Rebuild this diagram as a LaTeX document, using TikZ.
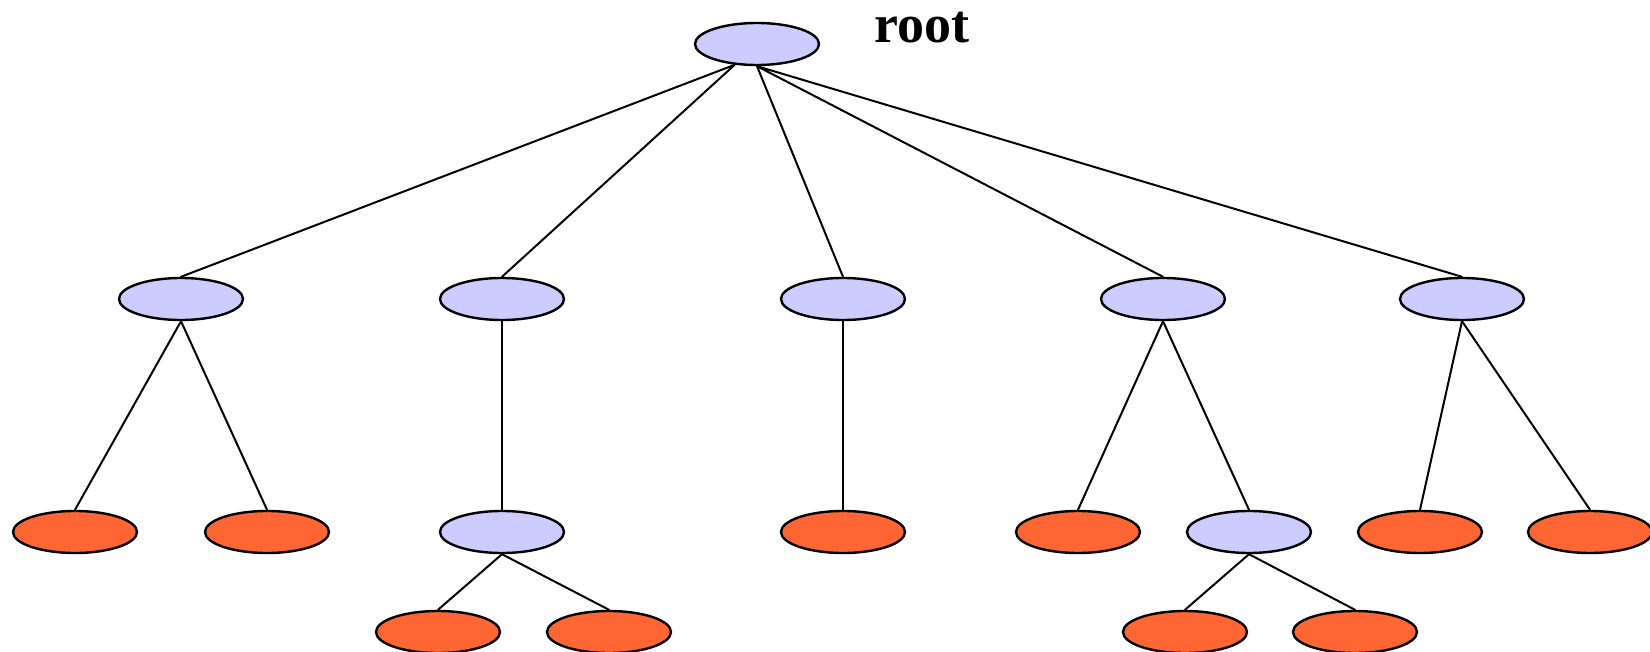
\documentclass[tikz,border=0pt]{standalone}
\usepackage{fontspec}
\setmainfont{Liberation Serif}
\usetikzlibrary{shapes.geometric}
\definecolor{inner}{HTML}{CCCCFF}
\definecolor{leafc}{HTML}{FF6633}
\tikzset{
  vertex/.style={ellipse, draw=black, line width=1.2pt, fill=inner, minimum width=62pt, minimum height=21pt, inner sep=0pt},
  leaf/.style={vertex, fill=leafc},
  edge/.style={line width=1pt}
}
\begin{document}
\begin{tikzpicture}[x=0.5pt, y=-0.5pt, line cap=round, line join=round]
  \useasboundingbox (0,0) rectangle (1650,652);
  % inner nodes
  \node[vertex] (root) at (757,44) {};
  \foreach \n/\x in {A/181, B/502, C/843, D/1163, E/1462}
    \node[vertex] (\n) at (\x,299) {};
  \node[vertex] (B_1) at (502,532) {};
  \node[vertex] (D_2) at (1249,532) {};
  % leaves
  \foreach \n/\x/\y in {A_1/75/532, A_2/267/532, C_1/843/532, D_1/1078/532,
      E_1/1420/532, E_2/1590/532, B_11/438/632, B_12/609/632, D_21/1185/632, D_22/1355/632}
    \node[leaf] (\n) at (\x,\y) {};
  \node[font=\fontsize{27}{31}\selectfont\bfseries, anchor=base] (rootlabel) at (922,43) {root};
  % edges
  \draw[edge] (root.223) -- (A.north) (root.223) -- (B.north)
    (root.south) -- (C.north) (root.south) -- (D.north) (root.south) -- (E.north);
  \foreach \p/\c in {A/A_1, A/A_2, B/B_1, C/C_1, D/D_1, D/D_2, E/E_1, E/E_2,
      B_1/B_11, B_1/B_12, D_2/D_21, D_2/D_22}
    \draw[edge] (\p.south) -- (\c.north);
\end{tikzpicture}
\end{document}
